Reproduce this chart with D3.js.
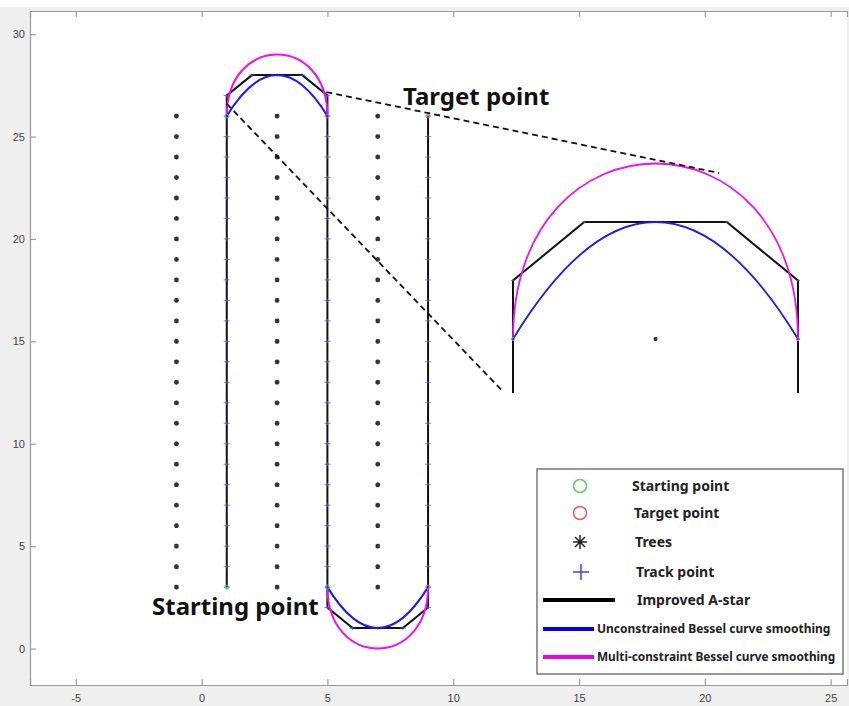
<!DOCTYPE html>
<html>
<head>
<meta charset="utf-8">
<script src="https://cdn.jsdelivr.net/npm/d3@7/dist/d3.min.js"></script>
<style>
  html, body { margin: 0; padding: 0; background: #ffffff; }
  svg { display: block; }
</style>
</head>
<body>
<svg id="chart" width="849" height="706"></svg>
<script>
// ---- data ----
const xTicks = [-5, 0, 5, 10, 15, 20, 25];
const yTicks = [0, 5, 10, 15, 20, 25, 30];

// tree rows (asterisks) between the driving lanes
const treeCols = [-1, 3, 7];
const treeRows = [3, 4, 5, 6, 7, 8, 9, 10, 11, 12, 13, 14, 15, 16, 17, 18, 19, 20, 21, 22, 23, 24, 25, 26];

// improved A-star path vertices
const astarX = [1, 1, 2, 4, 5, 5, 6, 8, 9, 9];
const astarY = [3, 27, 28, 28, 27, 2, 1, 1, 2, 26];

// track points along the path
const trackLane1 = [3, 4, 5, 6, 7, 8, 9, 10, 11, 12, 13, 14, 15, 16, 17, 18, 19, 20, 21, 22, 23, 24, 25, 26, 27];
const trackLane2 = [27, 26, 25, 24, 23, 22, 21, 20, 19, 18, 17, 16, 15, 14, 13, 12, 11, 10, 9, 8, 7, 6, 5, 4, 3, 2];
const trackLane3 = [2, 3, 4, 5, 6, 7, 8, 9, 10, 11, 12, 13, 14, 15, 16, 17, 18, 19, 20, 21, 22, 23, 24, 25, 26];
const trackTopX = [2, 3, 4];
const trackTopY = 28;
const trackBottomX = [6, 7, 8];
const trackBottomY = 1;

// turn curves: control points
const blueTop = [[1, 26], [3, 30], [5, 26]];
const blueBottom = [[5, 3], [7, -1], [9, 3]];
const magentaTop = [[1, 26], [1, 30], [5, 30], [5, 26]];
const magentaBottom = [[5, 3], [5, -1], [9, -1], [9, 3]];

// start / target markers
const startPts = [[1, 3], [1, 26], [5, 3]];
const targetPts = [[9, 26], [5, 26], [9, 3]];

// dashed leader lines to the magnified view
const leaders = [
  [[1.0, 26.6], [12.0, 12.52]],
  [[4.96, 27.17], [20.57, 23.22]]
];

const legendItems = [
  { kind: "circle", color: "#55d455", label: "Starting point", size: 14 },
  { kind: "circle", color: "#ee5a5a", label: "Target point", size: 14 },
  { kind: "star", color: "#222", label: "Trees", size: 14 },
  { kind: "plus", color: "#4040e0", label: "Track point", size: 14 },
  { kind: "line", color: "#000000", label: "Improved A-star", size: 14, len: 72 },
  { kind: "line", color: "#0000ee", label: "Unconstrained Bessel curve smoothing", size: 12, len: 51 },
  { kind: "line", color: "#ee00ee", label: "Multi-constraint Bessel curve smoothing", size: 11.8, len: 51 }
];

// ---- layout ----
const svg = d3.select("#chart");
const L = 30, T = 11, R = 847, B = 685;

const x = d3.scaleLinear().domain([-6.82, 25.65]).range([L, R]);
const y = d3.scaleLinear().domain([-1.78, 31.13]).range([B, T]);

// figure background
svg.append("rect").attr("x", 0).attr("y", 7).attr("width", 849).attr("height", 699).attr("fill", "#efefef");
svg.append("rect").attr("x", L).attr("y", T).attr("width", R - L).attr("height", B - T).attr("fill", "#ffffff");

// axes
const axisColor = "#9a9a9a";
const plain = d => String(d);
const gx = svg.append("g").attr("transform", `translate(0,${B})`)
  .call(d3.axisBottom(x).tickValues(xTicks).tickSize(-6).tickPadding(9).tickFormat(plain));
const gxTop = svg.append("g").attr("transform", `translate(0,${T})`)
  .call(d3.axisTop(x).tickValues(xTicks).tickSize(-6).tickFormat(""));
const gy = svg.append("g").attr("transform", `translate(${L},0)`)
  .call(d3.axisLeft(y).tickValues(yTicks).tickSize(-6).tickPadding(5).tickFormat(plain));
[gx, gxTop, gy].forEach(g => {
  g.select(".domain").attr("stroke", axisColor).attr("stroke-width", 1.2);
  g.selectAll(".tick line").attr("stroke", axisColor).attr("stroke-width", 1.2);
  g.selectAll(".tick text").attr("fill", "#444").attr("font-family", "Liberation Sans, Arial, sans-serif").attr("font-size", 11);
});

// ---- marks drawer (used for the main plot and the magnified view) ----
function drawScene(g, sx, sy, opt) {
  // trees
  const trees = [];
  treeCols.forEach(c => treeRows.forEach(r => trees.push([c, r])));
  const s = opt.treeS, s2 = opt.treeS * 0.75;
  g.append("g").selectAll("path").data(trees).join("path")
    .attr("transform", d => `translate(${sx(d[0])},${sy(d[1])})`)
    .attr("d", `M${-s},0H${s}M0,${-s}V${s}M${-s2},${-s2}L${s2},${s2}M${-s2},${s2}L${s2},${-s2}`)
    .attr("stroke", "#333").attr("stroke-width", opt.treeW).attr("fill", "none");

  // improved A-star path
  const astar = astarX.map((v, i) => [v, astarY[i]]);
  g.append("path").datum(astar)
    .attr("d", d3.line().x(d => sx(d[0])).y(d => sy(d[1])))
    .attr("fill", "none").attr("stroke", "#111").attr("stroke-width", opt.lineW).attr("stroke-linejoin", "miter");

  // track points
  const track = [];
  trackLane1.forEach(v => track.push([1, v]));
  trackTopX.forEach(v => track.push([v, trackTopY]));
  trackLane2.forEach(v => track.push([5, v]));
  trackBottomX.forEach(v => track.push([v, trackBottomY]));
  trackLane3.forEach(v => track.push([9, v]));
  g.append("g").selectAll("path").data(track).join("path")
    .attr("transform", d => `translate(${sx(d[0])},${sy(d[1])})`)
    .attr("d", `M${-opt.plus},0H${opt.plus}M0,${-opt.plus * 0.6}V${opt.plus * 0.6}`)
    .attr("stroke", "#5050d8").attr("stroke-opacity", 0.75).attr("stroke-width", 1);

  // bezier curves
  function quad(p) {
    const pth = d3.path();
    pth.moveTo(sx(p[0][0]), sy(p[0][1]));
    pth.quadraticCurveTo(sx(p[1][0]), sy(p[1][1]), sx(p[2][0]), sy(p[2][1]));
    return pth.toString();
  }
  function cubic(p) {
    const pth = d3.path();
    pth.moveTo(sx(p[0][0]), sy(p[0][1]));
    pth.bezierCurveTo(sx(p[1][0]), sy(p[1][1]), sx(p[2][0]), sy(p[2][1]), sx(p[3][0]), sy(p[3][1]));
    return pth.toString();
  }
  [magentaTop, magentaBottom].forEach(p => g.append("path").attr("d", cubic(p))
    .attr("fill", "none").attr("stroke", "#ee11ee").attr("stroke-width", opt.curveW));
  [blueTop, blueBottom].forEach(p => g.append("path").attr("d", quad(p))
    .attr("fill", "none").attr("stroke", "#1a1aee").attr("stroke-width", opt.curveW));

  // start / target markers
  g.append("g").selectAll("circle").data(startPts).join("circle")
    .attr("cx", d => sx(d[0])).attr("cy", d => sy(d[1])).attr("r", opt.mark)
    .attr("fill", "none").attr("stroke", "#40c080").attr("stroke-width", 1);
  g.append("g").selectAll("circle").data(targetPts).join("circle")
    .attr("cx", d => sx(d[0])).attr("cy", d => sy(d[1])).attr("r", opt.mark)
    .attr("fill", "none").attr("stroke", "#e07090").attr("stroke-width", 1);
}

const plot = svg.append("g");
drawScene(plot, x, y, { treeS: 2.4, treeW: 1.4, lineW: 2, curveW: 2, plus: 3, mark: 2 });

// ---- magnified view of the upper turn ----
const xi = d3.scaleLinear().domain([1, 5]).range([513, 798]);
const yi = d3.scaleLinear().domain([26, 29]).range([339, 163.5]);
svg.append("clipPath").attr("id", "zoomClip")
  .append("rect").attr("x", 495).attr("y", 140).attr("width", 320).attr("height", 253);
const inset = svg.append("g").attr("clip-path", "url(#zoomClip)");
drawScene(inset, xi, yi, { treeS: 2, treeW: 1.2, lineW: 2, curveW: 1.8, plus: 2, mark: 1.5 });

// dashed leader lines
svg.append("g").selectAll("line").data(leaders).join("line")
  .attr("x1", d => x(d[0][0])).attr("y1", d => y(d[0][1]))
  .attr("x2", d => x(d[1][0])).attr("y2", d => y(d[1][1]))
  .attr("stroke", "#111").attr("stroke-width", 1.8).attr("stroke-dasharray", "6,4");

// text annotations
const annoFont = "'Noto Sans', 'Open Sans', sans-serif";
svg.append("text").attr("x", 403).attr("y", 105).text("Target point")
  .attr("font-family", annoFont).attr("font-weight", "bold").attr("font-size", 24).attr("fill", "#111");
svg.append("text").attr("x", 152).attr("y", 615).text("Starting point")
  .attr("font-family", annoFont).attr("font-weight", "bold").attr("font-size", 24).attr("fill", "#111");

// ---- legend ----
const lg = svg.append("g");
lg.append("rect").attr("x", 537).attr("y", 469).attr("width", 306).attr("height", 205)
  .attr("fill", "#ffffff").attr("stroke", "#777").attr("stroke-width", 1.5);
const rowY = [486, 513, 542, 572, 600, 629, 657];
const textX = [632, 634, 635, 636, 637, 597, 597];
legendItems.forEach((it, i) => {
  const cy = rowY[i];
  if (it.kind === "circle") {
    lg.append("circle").attr("cx", 580).attr("cy", cy).attr("r", 6.5)
      .attr("fill", "none").attr("stroke", it.color).attr("stroke-width", 1.5);
  } else if (it.kind === "star") {
    lg.append("path").attr("transform", `translate(580,${cy})`)
      .attr("d", "M-7,0H7M0,-7V7M-5,-5L5,5M-5,5L5,-5")
      .attr("stroke", it.color).attr("stroke-width", 1.5);
  } else if (it.kind === "plus") {
    lg.append("path").attr("transform", `translate(581,${cy})`)
      .attr("d", "M-8,0H8M0,-8V8")
      .attr("stroke", it.color).attr("stroke-width", 1.5);
  } else {
    lg.append("line").attr("x1", 543).attr("x2", 543 + it.len).attr("y1", cy).attr("y2", cy)
      .attr("stroke", it.color).attr("stroke-width", 4);
  }
  lg.append("text").attr("x", textX[i]).attr("y", cy).attr("dy", "0.35em").text(it.label)
    .attr("font-family", annoFont).attr("font-weight", "bold").attr("font-size", it.size).attr("fill", "#222");
});
</script>
</body>
</html>
